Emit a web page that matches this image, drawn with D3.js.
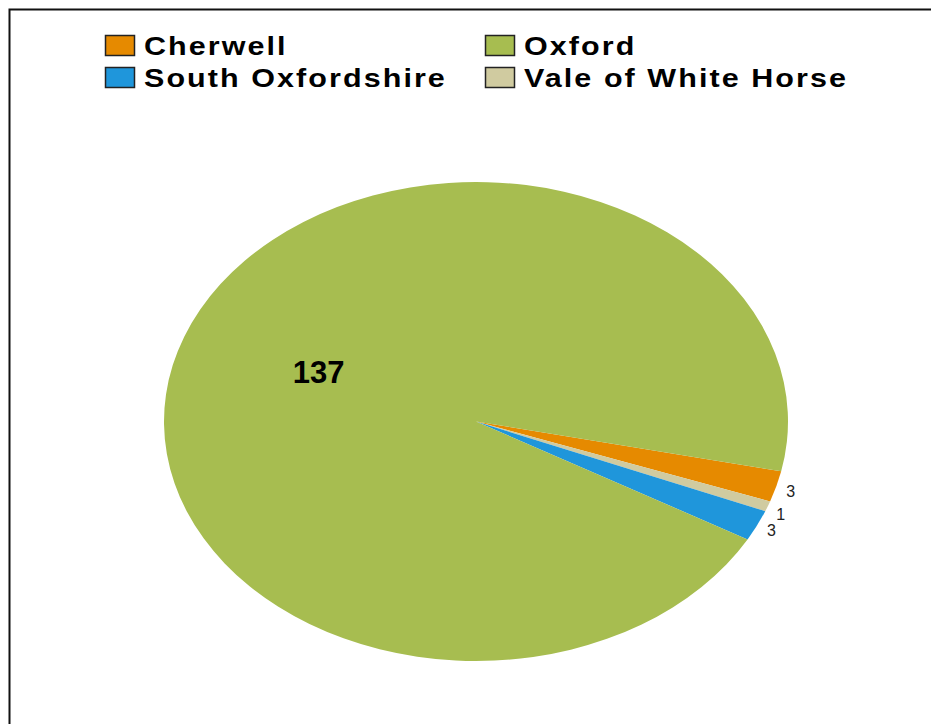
<!DOCTYPE html>
<html>
<head>
<meta charset="utf-8">
<script src="https://cdn.jsdelivr.net/npm/d3@7"></script>
<style>
html,body{margin:0;padding:0;background:#fff;}
svg{display:block;}
</style>
</head>
<body>
<svg id="chart" width="931" height="724"></svg>
<script>
// ---- data ----
const categories = ["Cherwell", "Oxford", "South Oxfordshire", "Vale of White Horse"];
const values = [3, 137, 3, 1];
const pieOrder = ["Cherwell", "Vale of White Horse", "South Oxfordshire", "Oxford"];
const legendOrder = ["Cherwell", "Oxford", "South Oxfordshire", "Vale of White Horse"];
const colorList = ["#E68A00", "#A7BD50", "#1F96DB", "#D0CBA0"];

// ---- layout ----
const W = 931, H = 724;
const cx = 476, cy = 421.5, rx = 312, ry = 239.5;
const startDeg = 102;

const svg = d3.select("#chart");
const color = d3.scaleOrdinal().domain(categories).range(colorList);

const data = pieOrder.map(name => ({name, value: values[categories.indexOf(name)]}));

const pie = d3.pie().sort(null).value(d => d.value)
  .startAngle(startDeg * Math.PI / 180)
  .endAngle((startDeg + 360) * Math.PI / 180);
const arcs = pie(data);

const arc = d3.arc().innerRadius(0).outerRadius(rx);

const pieG = svg.append("g")
  .attr("transform", `translate(${cx},${cy}) scale(1,${ry / rx})`);
pieG.selectAll("path").data(arcs).join("path")
  .attr("d", arc)
  .attr("fill", d => color(d.data.name));

// labels
function ellipsePoint(a, k) {
  return [cx + rx * k * Math.sin(a), cy - ry * k * Math.cos(a)];
}
const labelNudge = {"Cherwell": [-2, 1], "Vale of White Horse": [-3, 3], "South Oxfordshire": [-1, -1], "Oxford": [3, -2]};
arcs.forEach(d => {
  const mid = (d.startAngle + d.endAngle) / 2;
  const big = d.data.value > 50;
  const p = ellipsePoint(mid, big ? 0.55 : 1.055);
  const n = labelNudge[d.data.name];
  svg.append("text")
    .attr("x", p[0] + n[0]).attr("y", p[1] + n[1])
    .attr("text-anchor", "middle")
    .attr("dominant-baseline", "central")
    .attr("font-family", "'Liberation Sans', Arial, sans-serif")
    .attr("font-weight", big ? "bold" : "normal")
    .attr("font-size", big ? 31 : 16)
    .attr("fill", big ? "#000" : "#222")
    .text(d.data.value);
});

// legend
const legendPos = [[105, 35], [485, 35], [105, 67], [485, 67]];
legendOrder.forEach((name, i) => {
  const [x, y] = legendPos[i];
  svg.append("rect")
    .attr("x", x + 0.5).attr("y", y + 0.5)
    .attr("width", 29).attr("height", 20)
    .attr("fill", color(name))
    .attr("stroke", "#222").attr("stroke-width", 1.5);
  svg.append("g")
    .attr("transform", `translate(${x + 39},${y + 20}) scale(1.22,1)`)
    .append("text")
    .attr("x", 0).attr("y", 0)
    .attr("font-family", "'Liberation Sans', Arial, sans-serif")
    .attr("font-weight", "bold")
    .attr("font-size", 25)
    .attr("letter-spacing", "1.7px")
    .attr("fill", "#000")
    .text(name);
});

// frame
svg.append("path")
  .attr("d", `M9.5,${H} V9.5 H${W}`)
  .attr("fill", "none")
  .attr("stroke", "#111")
  .attr("stroke-width", 2);
</script>
</body>
</html>
